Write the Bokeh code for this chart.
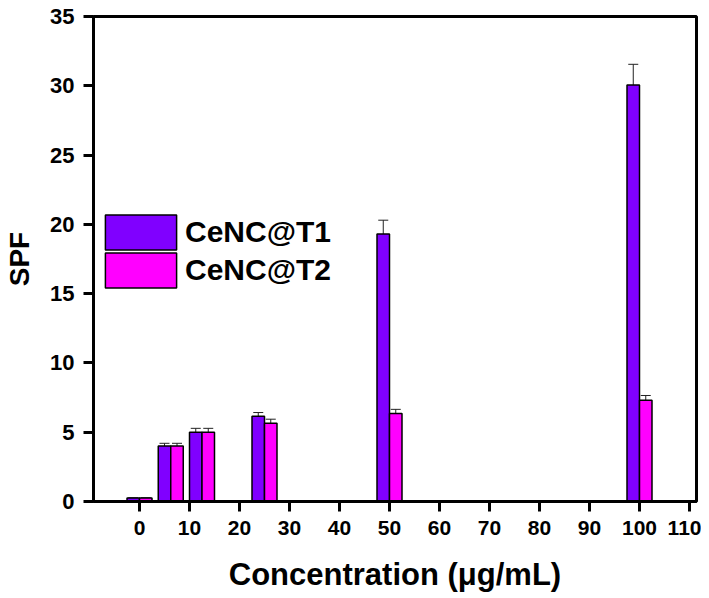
from bokeh.plotting import figure
from bokeh.models import ColumnDataSource, Whisker, Legend, LegendItem, FixedTicker, Range1d
from bokeh.transform import dodge
from bokeh.embed import file_html
from bokeh.resources import INLINE

conc = [0, 6.25, 12.5, 25, 50, 100]
t1 = [0.25, 4.0, 5.0, 6.15, 19.3, 30.05]
t1_err = [0.0, 0.2, 0.28, 0.27, 1.0, 1.5]
t2 = [0.25, 4.0, 5.0, 5.65, 6.35, 7.3]
t2_err = [0.0, 0.2, 0.28, 0.29, 0.3, 0.35]
x_ticks = [0, 10, 20, 30, 40, 50, 60, 70, 80, 90, 100, 110]
y_ticks = [0, 5, 10, 15, 20, 25, 30, 35]
series_names = ["CeNC@T1", "CeNC@T2"]

src = ColumnDataSource(dict(
    x=conc, t1=t1, t2=t2,
    t1_lo=[a - b for a, b in zip(t1, t1_err)], t1_hi=[a + b for a, b in zip(t1, t1_err)],
    t2_lo=[a - b for a, b in zip(t2, t2_err)], t2_hi=[a + b for a, b in zip(t2, t2_err)],
))

FONT = "Liberation Sans"
p = figure(width=701, height=598, output_backend="svg", toolbar_location=None,
           x_range=Range1d(-9.2, 111.4), y_range=Range1d(0, 35),
           min_border_left=93, min_border_right=5, min_border_top=16, min_border_bottom=97)
p.grid.visible = False
p.outline_line_color = "black"
p.outline_line_width = 3
p.background_fill_color = "white"
p.border_fill_color = "white"

BW = 2.5
r1 = p.vbar(x=dodge("x", -BW / 2, range=p.x_range), top="t1", width=BW, bottom=0, source=src,
            fill_color="#8000FF", line_color="black", line_width=1.5)
r2 = p.vbar(x=dodge("x", BW / 2, range=p.x_range), top="t2", width=BW, bottom=0, source=src,
            fill_color="#FF00FF", line_color="black", line_width=1.5)

for col, off in (("t1", -BW / 2), ("t2", BW / 2)):
    w = Whisker(base=dodge("x", off, range=p.x_range), lower=col + "_lo", upper=col + "_hi",
                source=src, line_color="#222222", line_width=1)
    w.upper_head.size = 10
    w.lower_head.size = 10
    w.upper_head.line_color = "#222222"
    w.lower_head.line_color = "#222222"
    p.add_layout(w)

for ax in (p.xaxis[0], p.yaxis[0]):
    ax.axis_line_width = 3
    ax.major_tick_line_width = 3
    ax.major_tick_out = 10
    ax.major_tick_in = 0
    ax.minor_tick_line_color = None
    ax.major_label_text_font = FONT
    ax.major_label_text_font_style = "bold"
    ax.major_label_text_color = "black"
    ax.axis_label_text_font = FONT
    ax.axis_label_text_font_style = "bold"
    ax.axis_label_text_color = "black"

p.xaxis.ticker = FixedTicker(ticks=x_ticks)
p.yaxis.ticker = FixedTicker(ticks=y_ticks)
p.xaxis.major_label_text_font_size = "21px"
p.yaxis.major_label_text_font_size = "22px"
p.xaxis.major_label_standoff = 9
p.yaxis.major_label_standoff = 9
p.xaxis.axis_label = "Concentration (μg/mL)"
p.yaxis.axis_label = "SPF"
p.xaxis.axis_label_text_font_size = "31px"
p.yaxis.axis_label_text_font_size = "28px"
p.xaxis.axis_label_standoff = 19
p.yaxis.axis_label_standoff = 12

# one legend per series so the swatches can sit close together
for name, rend, loc in ((series_names[0], r1, (3, 247)), (series_names[1], r2, (3, 209))):
    lg = Legend(items=[LegendItem(label=name, renderers=[rend])],
                location=loc, glyph_width=89, glyph_height=44, padding=0, spacing=0,
                label_text_font=FONT, label_text_font_style="bold",
                label_text_font_size="30px", label_standoff=0, label_text_color="black",
                border_line_color=None, background_fill_alpha=0, margin=0)
    p.add_layout(lg)

open("out.html", "w").write(file_html(p, INLINE))
